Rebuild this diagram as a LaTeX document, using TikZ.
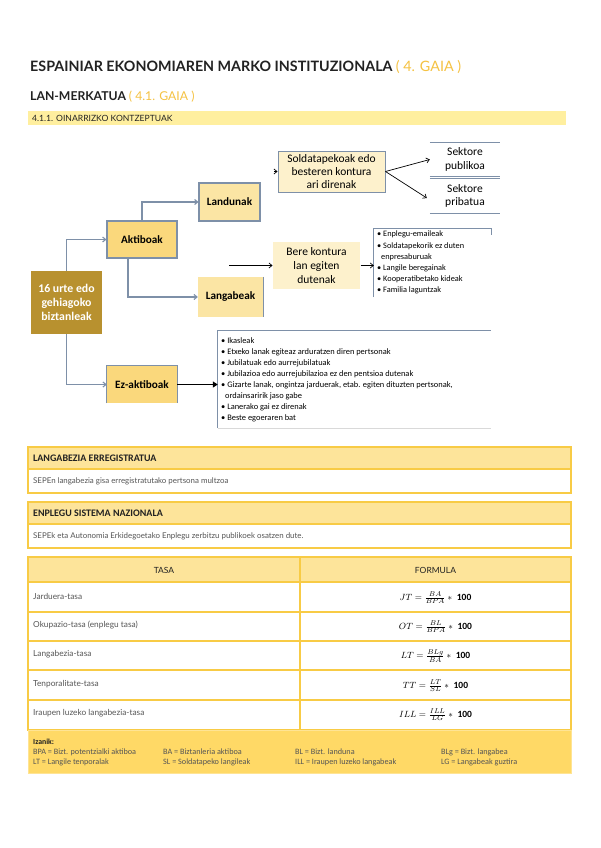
\documentclass[tikz,border=0pt]{standalone}
\usepackage{fontspec}
\setmainfont{Carlito}
\newfontfamily\lato{Lato}
\usetikzlibrary{arrows.meta}
\definecolor{gold}{HTML}{F5C242}
\definecolor{titlegray}{HTML}{222222}
\definecolor{barfill}{HTML}{FFEF9F}
\definecolor{popfill}{HTML}{B8912F}
\definecolor{aktfill}{HTML}{FAD87C}
\definecolor{lightfill}{HTML}{FBE5A4}
\definecolor{creamfill}{HTML}{FDF1CC}
\definecolor{bluegray}{HTML}{7E90A8}
\definecolor{tabhead}{HTML}{FDE49A}
\definecolor{tabborder}{HTML}{F8CB45}
\definecolor{legfill}{HTML}{FFD966}
\definecolor{bodygray}{HTML}{555555}
\tikzset{
  arr/.style={draw=bluegray, line width=1.1pt, -{Straight Barb[length=3pt,width=5pt]}},
  blk/.style={draw=black, line width=0.7pt, -{Straight Barb[length=3pt,width=5pt]}},
  dbox/.style={draw=bluegray, line width=1.1pt, inner sep=0pt, align=center, font=\fontsize{11.2}{13}\selectfont\bfseries},
  cbox/.style={draw=bluegray, line width=1pt, fill=creamfill, inner sep=0pt, align=center, font=\fontsize{11.5}{13}\selectfont},
  lst/.style={anchor=north west, inner sep=0pt, align=left, font=\fontsize{8.3}{11.2}\selectfont},
  hdr/.style={anchor=west, inner sep=0pt, font=\fontsize{10}{12}\selectfont\bfseries, text=titlegray},
  bdy/.style={anchor=west, inner sep=0pt, font=\lato\fontsize{7.9}{9}\selectfont, text=bodygray},
  row/.style={anchor=west, inner sep=0pt, font=\lato\fontsize{8.3}{10}\selectfont, text=bodygray},
  frm/.style={inner sep=0pt, font=\fontsize{9.5}{10}\selectfont},
  leg/.style={anchor=west, inner sep=0pt, font=\fontsize{8.2}{9}\selectfont, text=bodygray},
  tabline/.style={draw=tabborder, line width=1.2pt}
}
\begin{document}
\begin{tikzpicture}[x=1pt,y=-1pt]
\useasboundingbox (0,0) rectangle (600,848);
\fill[white] (0,0) rectangle (600,848);

% Titles
\node[anchor=west, inner sep=0pt, text=titlegray, font=\lato\bfseries\fontsize{14.3}{16}\selectfont] (title) at (30,67)
  {ESPAINIAR EKONOMIAREN MARKO INSTITUZIONALA \textcolor{gold}{\mdseries ( 4. GAIA )}};
\node[anchor=west, inner sep=0pt, text=titlegray, font=\lato\bfseries\fontsize{12.2}{14}\selectfont] (sub) at (30,97)
  {LAN-MERKATUA \textcolor{gold}{\mdseries ( 4.1. GAIA )}};
\fill[barfill] (28,111) rectangle (566,125);
\node[anchor=west, inner sep=0pt, text=titlegray, font=\lato\fontsize{8.6}{10}\selectfont] (sec) at (32,118.5)
  {4.1.1. OINARRIZKO KONTZEPTUAK};

% Diagram boxes
\node[fill=popfill, inner sep=0pt, minimum width=71pt, minimum height=63pt, align=center,
  text=white, font=\fontsize{11.8}{14}\selectfont\bfseries] (pop) at (66.5,302.5)
  {16 urte edo\\gehiagoko\\biztanleak};
\node[dbox, fill=aktfill, minimum width=70pt, minimum height=37pt] (akt) at (142,239.5) {Aktiboak};
\node[dbox, fill=lightfill, minimum width=61pt, minimum height=38pt] (land) at (229.5,202) {Landunak};
\node[fill=lightfill, inner sep=0pt, minimum width=65pt, minimum height=40pt, font=\fontsize{11.2}{13}\selectfont\bfseries] (lang) at (230.5,297) {Langabeak};
\draw[bluegray, line width=1pt] (lang.north east) -- (lang.south east);
\node[fill=aktfill, inner sep=0pt, minimum width=70pt, minimum height=37pt, font=\fontsize{11.2}{13}\selectfont\bfseries] (ez) at (142,384.5) {Ez-aktiboak};
\draw[bluegray, line width=1.1pt] (ez.south west) -- (ez.north west) -- (ez.north east) -- (ez.south east);

\node[cbox, minimum width=107pt, minimum height=41pt] (sold) at (331.5,171.5)
  {Soldatapekoak edo\\besteren kontura\\ari direnak};
\node[inner sep=0pt, minimum width=70pt, minimum height=33pt, align=center, font=\fontsize{11.5}{13.5}\selectfont] (pub) at (465,159.5) {Sektore\\publikoa};
\draw[bluegray, line width=1pt] (pub.north west) -- (pub.north east) (pub.south west) -- (pub.south east);
\node[inner sep=0pt, minimum width=70pt, minimum height=34pt, align=center, font=\fontsize{11.5}{13.5}\selectfont] (pri) at (465,196) {Sektore\\pribatua};
\draw[bluegray, line width=1pt] (pri.north west) -- (pri.north east) (pri.south west) -- (pri.south east);

\node[cbox, draw=none, minimum width=87pt, minimum height=47pt, font=\fontsize{11.5}{14}\selectfont] (bere) at (316.5,265.5)
  {Bere kontura\\lan egiten\\dutenak};

\node[inner sep=0pt, minimum width=117pt, minimum height=68pt] (l1) at (432.5,263) {};
\draw[bluegray, line width=1pt] (l1.south west) -- (l1.north west) -- (l1.north east) -- ++(0,6);
\node[lst] (l1t) at (377,231)
  {• Enplegu-emaileak\\• Soldatapekorik ez duten\\\hspace*{4pt}enpresaburuak\\• Langile beregainak\\• Kooperatibetako kideak\\• Familia laguntzak};

\node[inner sep=0pt, minimum width=273pt, minimum height=97pt] (l2) at (354.5,379.5) {};
\draw[bluegray, line width=1pt] (l2.south west) -- (l2.north west) -- (l2.north east);
\draw[black!15, line width=0.6pt] (l2.south west) -- (l2.south east);
\node[lst, font=\fontsize{8.4}{11}\selectfont] (l2t) at (221,337)
  {• Ikasleak\\• Etxeko lanak egiteaz arduratzen diren pertsonak\\• Jubilatuak edo aurrejubilatuak\\• Jubilazioa edo aurrejubilazioa ez den pentsioa dutenak\\• Gizarte lanak, ongintza jarduerak, etab. egiten dituzten pertsonak,\\\hspace*{4pt}ordainsaririk jaso gabe\\• Lanerako gai ez direnak\\• Beste egoeraren bat};

% connectors
\draw[arr] (pop.north) |- (akt.west);
\draw[arr] (akt.north) |- (land.west);
\draw[arr] ([xshift=-14pt]akt.south) |- (lang.west);
\draw[arr] (pop.south) |- (ez.west);
\draw[black, line width=1.8pt, -{Triangle[length=5pt,width=6pt]}] (ez.east) -- (l2.west |- ez.east);
\coordinate (sin) at (274,171.5);
\draw[blk] (sin) -- (sold.west);
\draw[blk] (sold.east) -- (pub.west);
\draw[blk] (sold.east) -- ([xshift=-3pt,yshift=-2pt]pri.west);
\coordinate (bin) at (229,265.5);
\draw[blk] (bin) -- (bere.west);
\draw[blk] (bere.east) -- (l1.west |- bere.east);

% Box 1
\fill[tabhead] (28,447) rectangle (571,469);
\draw[tabline] (28,447) rectangle (571,493);
\draw[tabline] (28,469) -- (571,469);
\node[hdr] (h1) at (33,458) {LANGABEZIA ERREGISTRATUA};
\node[bdy] (b1) at (33,481) {SEPEn langabezia gisa erregistratutako pertsona multzoa};
% Box 2
\fill[tabhead] (28,502) rectangle (571,524);
\draw[tabline] (28,502) rectangle (571,548);
\draw[tabline] (28,524) -- (571,524);
\node[hdr] (h2) at (33,513) {ENPLEGU SISTEMA NAZIONALA};
\node[bdy] (b2) at (33,536) {SEPEk eta Autonomia Erkidegoetako Enplegu zerbitzu publikoek osatzen dute.};

% Table
\fill[tabhead] (28,557) rectangle (571,582);
\fill[legfill] (28,730) rectangle (571,773);
\draw[tabline] (28,557) rectangle (571,730);
\foreach \yy in {582,612,641,670,700} \draw[tabline] (28,\yy) -- (571,\yy);
\draw[tabline] (300,557) -- (300,730);
\draw[draw=legfill!70!white, line width=0.8pt] (28,730) rectangle (571,773);
\node[inner sep=0pt, font=\lato\fontsize{8.5}{10}\selectfont, text=titlegray] (th1) at (164,570) {TASA};
\node[inner sep=0pt, font=\lato\fontsize{8.5}{10}\selectfont, text=titlegray] (th2) at (435.5,570) {FORMULA};

\node[row] (r1) at (33,596) {Jarduera-tasa};
\node[row] (r2) at (33,625) {Okupazio-tasa (enplegu tasa)};
\node[row] (r3) at (33,654) {Langabezia-tasa};
\node[row] (r4) at (33,684) {Tenporalitate-tasa};
\node[row] (r5) at (33,713) {Iraupen luzeko langabezia-tasa};

\node[frm] (f1) at (435.5,598) {$JT=\frac{BA}{BPA}\ast\;\mathbf{100}$};
\node[frm] (f2) at (435.5,627) {$OT=\frac{BL}{BPA}\ast\;\mathbf{100}$};
\node[frm] (f3) at (435.5,656) {$LT=\frac{BLg}{BA}\ast\;\mathbf{100}$};
\node[frm] (f4) at (435.5,686) {$TT=\frac{LT}{SL}\ast\;\mathbf{100}$};
\node[frm] (f5) at (435.5,715) {$ILL=\frac{ILL}{LG}\ast\;\mathbf{100}$};

% Legend
\node[leg, font=\fontsize{7.8}{9}\selectfont\bfseries, text=titlegray] (izan) at (33,742) {Izanik:};
\node[leg] (g1) at (33,752) {BPA = Bizt. potentzialki aktiboa};
\node[leg] (g2) at (163,752) {BA = Biztanleria aktiboa};
\node[leg] (g3) at (295,752) {BL = Bizt. landuna};
\node[leg] (g4) at (441,752) {BLg = Bizt. langabea};
\node[leg] (g5) at (33,762) {LT = Langile tenporalak};
\node[leg] (g6) at (163,762) {SL = Soldatapeko langileak};
\node[leg] (g7) at (295,762) {ILL = Iraupen luzeko langabeak};
\node[leg] (g8) at (441,762) {LG = Langabeak guztira};
\end{tikzpicture}
\end{document}
